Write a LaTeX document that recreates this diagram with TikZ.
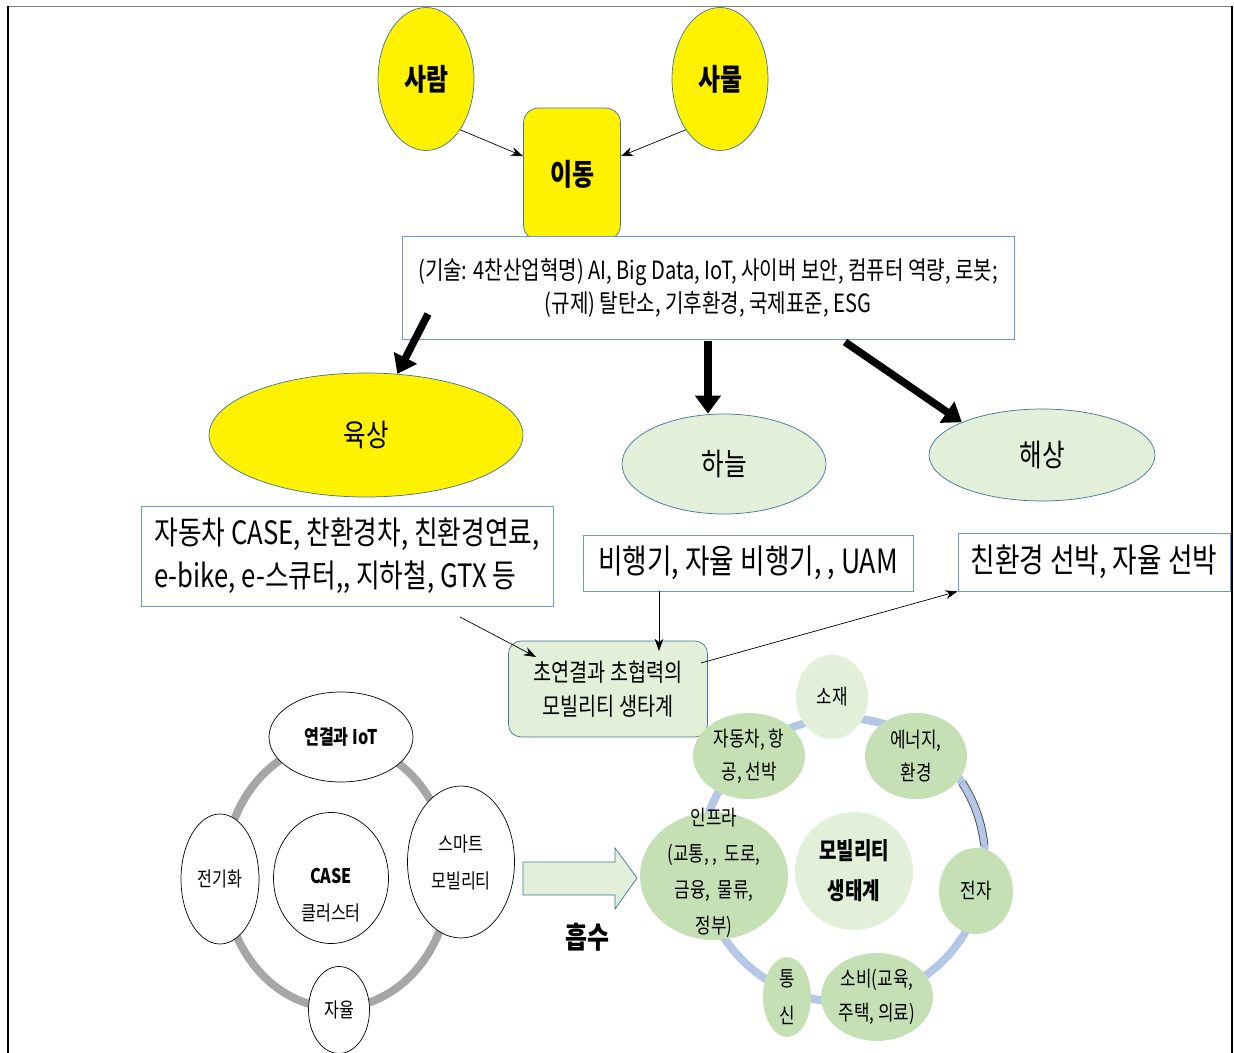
\documentclass[tikz,border=0pt]{standalone}
\usepackage{fontspec}
\newfontfamily\kr[FakeStretch=0.8]{Noto Sans CJK KR}
\usetikzlibrary{shapes.geometric,arrows.meta}
\definecolor{edgeblue}{HTML}{41719C}
\definecolor{boxblue}{HTML}{6A9BD8}
\definecolor{paleGreen}{HTML}{E2F0D9}
\definecolor{midGreen}{HTML}{C5E0B4}
\definecolor{ringBlue}{HTML}{B4C7E7}
\definecolor{ringGray}{HTML}{A6A6A6}
\begin{document}
\begin{tikzpicture}[x=0.02cm, y=-0.02cm,
  yelnode/.style={ellipse, draw=edgeblue, fill=yellow, inner sep=0pt},
  palenode/.style={ellipse, draw=edgeblue, fill=paleGreen, inner sep=0pt, font=\kr\fontsize{17.5}{20}\selectfont},
  whitenode/.style={ellipse, draw=black, fill=white, inner sep=0pt, align=center, font=\kr\fontsize{11.5}{21}\selectfont},
  ecobub/.style={ellipse, fill=midGreen, inner sep=0pt, align=center, font=\kr\fontsize{12}{19}\selectfont},
  txtbox/.style={rectangle, draw=boxblue, fill=white, inner sep=0pt, font=\kr\fontsize{19}{24.5}\selectfont},
  thinarr/.style={-{Stealth[length=7pt,width=5pt]}, thin},
  fatarr/.style={-{Triangle[length=0.36cm,width=0.5cm]}, line width=0.15cm},
]
\useasboundingbox (0,0) rectangle (1234,1053);

% frame
\draw[gray, thin] (8,6) -- (1232,6);
\draw[line width=1.5pt] (8,6) -- (8,1053);
\draw[line width=1.5pt] (1232,6) -- (1232,1053);

% top: who moves
\node[yelnode, minimum width=1.92cm, minimum height=2.86cm, font=\kr\bfseries\fontsize{17}{20}\selectfont] (saram) at (426,79) {사람};
\node[yelnode, minimum width=1.92cm, minimum height=2.86cm, font=\kr\bfseries\fontsize{17}{20}\selectfont] (samul) at (720,79) {사물};
\node[rectangle, rounded corners=0.3cm, draw=edgeblue, fill=yellow, minimum width=1.94cm, minimum height=2.64cm, font=\kr\bfseries\fontsize{17}{20}\selectfont] (idong) at (572,174) {이동};
\draw[thinarr] (saram.south east) -- (idong.160);
\draw[thinarr] (samul.south west) -- (idong.20);

\node[txtbox, minimum width=12.24cm, minimum height=2.06cm, align=center, font=\kr\fontsize{14.3}{18.8}\selectfont] (tech) at (708,288) {(기술: 4찬산업혁명) AI, Big Data, IoT, 사이버 보안, 컴퓨터 역량, 로봇;\\(규제) 탈탄소, 기후환경, 국제표준, ESG};

% land, sky, sea
\node[yelnode, minimum width=6.28cm, minimum height=2.48cm, font=\kr\fontsize{17.5}{20}\selectfont] (land) at (366,435) {육상};
\node[palenode, minimum width=4.08cm, minimum height=2cm] (sky) at (724,464) {하늘};
\node[palenode, minimum width=4.52cm, minimum height=1.84cm] (sea) at (1042,455) {해상};

\coordinate (f1) at (428,314);
\coordinate (f2) at (708,341);
\coordinate (f3) at (845,342);
\draw[fatarr] (f1) -- (land);
\draw[fatarr] (f2) -- (f2 |- sky.north);
\draw[fatarr] (f3) -- (sea.north west);

\node[txtbox, minimum width=8.24cm, minimum height=2cm, align=left, font=\kr\fontsize{18.3}{24.5}\selectfont] (landbox) at (347,556) {자동차 CASE, 찬환경차, 친환경연료,\\e-bike, e-스큐터,, 지하철, GTX 등};
\node[txtbox, minimum width=6.6cm, minimum height=1.12cm] (skybox) at (748,563) {비행기, 자율 비행기, , UAM};
\node[txtbox, minimum width=5.44cm, minimum height=1.16cm] (seabox) at (1094,562) {친환경 선박, 자율 선박};

\node[rectangle, rounded corners=0.25cm, draw=edgeblue, fill=paleGreen, minimum width=3.98cm, minimum height=1.92cm, align=center, font=\kr\fontsize{14}{19.4}\selectfont] (hub) at (608,689) {초연결과 초협력의\\모빌리티 생타계};

\coordinate (h1) at (460,617);
\coordinate (h2) at (536,657);
\coordinate (h3) at (659,651);
\coordinate (h4) at (701,663);
\draw[thinarr] (h1) -- (h2);
\draw[thinarr] (skybox.south -| h3) -- (h3);
\draw[thinarr] (h4) -- (seabox.south west);

% CASE cluster
\draw[ringGray, line width=0.16cm] (337,875) ellipse [x radius=113, y radius=133];
\node[whitenode, minimum width=2.88cm, minimum height=1.8cm, font=\kr\bfseries\fontsize{11.5}{21}\selectfont] (iot) at (341,737) {연결과 IoT};
\node[whitenode, minimum width=1.56cm, minimum height=2.6cm] (elec) at (220,879) {전기화};
\node[whitenode, minimum width=2.3cm, minimum height=2.62cm] (case) at (331,878) {};
\node[align=center, font=\kr\fontsize{11.5}{21}\selectfont] (casetxt) at (331,895) {\textbf{CASE}\\클러스터};
\node[whitenode, minimum width=2.14cm, minimum height=3.04cm] (smart) at (461,862) {스마트\\모빌리티};
\node[whitenode, minimum width=1.22cm, minimum height=1.74cm] (auto) at (339,1010) {자율};

% absorb arrow
\draw[draw=edgeblue, fill=paleGreen] (523,862) -- (615,862) -- (615,848) -- (637,878) -- (615,909) -- (615,895) -- (523,895) -- cycle;
\node[font=\kr\bfseries\fontsize{17}{20}\selectfont] (absorb) at (587,937) {흡수};

% ecosystem
\draw[ringBlue, line width=0.16cm] (843,860) circle [radius=142];
\draw[line width=0.5pt, draw=gray!60!black, double=ringBlue, double distance=0.13cm] ([shift={(843,860)}]-33:142) arc [start angle=-33, end angle=-6, radius=142];
\node[ecobub, fill=paleGreen, minimum width=1.44cm, minimum height=1.68cm] (mat) at (832,697) {소재};
\node[ecobub, minimum width=2.24cm, minimum height=1.72cm] (veh) at (749,756) {자동차, 항\\공, 선박};
\node[ecobub, minimum width=2.04cm, minimum height=1.72cm] (energy) at (916,756) {에너지,\\환경};
\node[ecobub, minimum width=2.96cm, minimum height=2.56cm] (infra) at (714,876) {};
\node[align=center, font=\kr\fontsize{12}{20.5}\selectfont] (infratxt) at (714,873) {인프라\\(교통, ,~~도로,\\금융,~~물류,\\정부)};
\node[ecobub, fill=paleGreen, minimum width=2.36cm, minimum height=2.36cm, font=\kr\bfseries\fontsize{13.5}{22.8}\selectfont] (eco) at (854,871) {모빌리티\\생태계};
\node[ecobub, minimum width=1.48cm, minimum height=1.72cm] (elc) at (976,891) {전자};
\node[ecobub, minimum width=0.96cm, minimum height=1.6cm, font=\kr\fontsize{12}{21}\selectfont] (comm) at (787,997) {통\\신};
\node[ecobub, minimum width=2.24cm, minimum height=1.76cm] (cons) at (877,997) {소비(교육,\\주택, 의료)};
\end{tikzpicture}
\end{document}
